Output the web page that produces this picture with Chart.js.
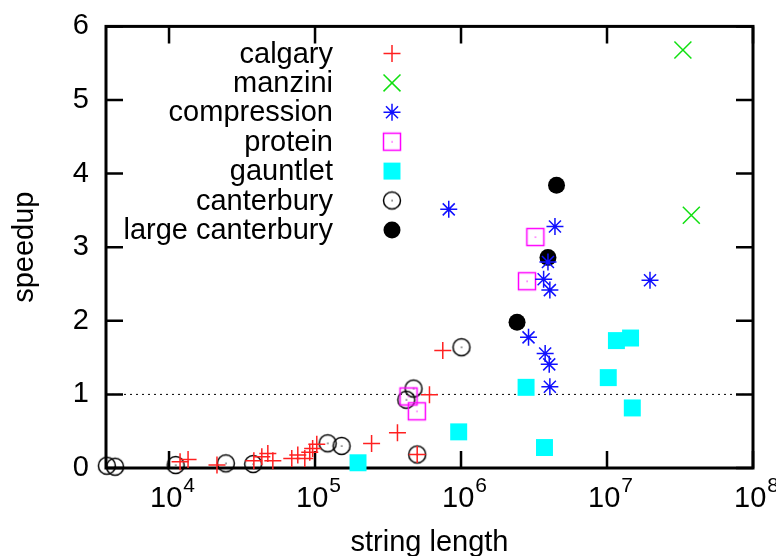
<!DOCTYPE html>
<html>
<head>
<meta charset="utf-8">
<script src="https://cdn.jsdelivr.net/npm/chart.js@4.4.1/dist/chart.umd.min.js"></script>
<style>
  html, body { margin: 0; padding: 0; background: #fff; }
  #wrap { width: 776px; height: 556px; }
</style>
</head>
<body>
<div id="wrap"><canvas id="speedup-canvas"></canvas></div>
<script>
// values (string length, speedup)
var seriesNames = ['calgary', 'manzini', 'compression', 'protein', 'gauntlet', 'canterbury', 'large canterbury'];

var calgaryLen = [11900, 13500, 21300, 38100, 43200, 47500, 51400, 69300, 76200, 85100, 92000, 96300, 102800, 244000, 367000, 501000, 608000, 750000];
var calgarySpeed = [0.085, 0.117, 0.04, 0.098, 0.152, 0.198, 0.098, 0.13, 0.175, 0.13, 0.215, 0.265, 0.323, 0.332, 0.48, 0.184, 0.995, 1.596];

var manziniLen = [3.31e7, 3.78e7];
var manziniSpeed = [5.68, 3.434];

var compressionLen = [824000, 2.90e6, 3.68e6, 3.77e6, 3.94e6, 4.02e6, 4.06e6, 4.06e6, 4.40e6, 1.97e7];
var compressionSpeed = [3.514, 1.775, 2.565, 1.556, 2.80, 1.408, 2.417, 1.103, 3.282, 2.551];

var proteinLen = [437000, 498000, 2.83e6, 3.23e6];
var proteinSpeed = [0.972, 0.771, 2.538, 3.138];

var gauntletLen = [197000, 964000, 2.79e6, 3.73e6, 1.02e7, 1.16e7, 1.45e7, 1.49e7];
var gauntletSpeed = [0.071, 0.491, 1.096, 0.278, 1.228, 1.731, 1.766, 0.816];

var canterburyLen = [3750, 4270, 11100, 24500, 37700, 122000, 152000, 422000, 473000, 501000, 1.007e6];
var canterburySpeed = [0.031, 0.017, 0.04, 0.063, 0.054, 0.336, 0.30, 0.928, 1.08, 0.184, 1.641];

var largeCantLen = [2.42e6, 3.94e6, 4.51e6];
var largeCantSpeed = [1.981, 2.861, 3.843];

var xDecades = [1e4, 1e5, 1e6, 1e7, 1e8];
var yTicks = [0, 1, 2, 3, 4, 5, 6];
var referenceSpeedup = 1;

var FONT = '"Liberation Sans", Arial, Helvetica, sans-serif';
Chart.defaults.font.family = FONT;
Chart.defaults.font.size = 29;
Chart.defaults.color = '#000';

function pts(xs, ys) {
    return xs.map(function (x, i) { return { x: x, y: ys[i] }; });
}

// open marker with a dot in the middle, like gnuplot draws them
function dottedMarker(shape, color) {
    var c = document.createElement('canvas');
    c.width = 22;
    c.height = 22;
    var g = c.getContext('2d');
    g.strokeStyle = color;
    g.fillStyle = color;
    g.lineWidth = 1.5;
    if (shape === 'circle') {
        g.beginPath();
        g.arc(11, 11, 8.5, 0, Math.PI * 2);
        g.stroke();
    } else {
        g.strokeRect(2.5, 2.5, 17, 17);
    }
    g.fillRect(10.5, 10.5, 1.2, 1.2);
    return c;
}

var frameAndTicks = {
    id: 'frameAndTicks',
    beforeDatasetsDraw: function (chart) {
        var ctx = chart.ctx;
        var a = chart.chartArea;
        var xs = chart.scales.x, ys = chart.scales.y;
        var len = 17;
        ctx.save();
        // dotted reference line
        var yr = ys.getPixelForValue(referenceSpeedup);
        ctx.strokeStyle = '#000';
        ctx.lineWidth = 1;
        ctx.setLineDash([2, 4]);
        ctx.beginPath();
        ctx.moveTo(a.left, yr);
        ctx.lineTo(a.right, yr);
        ctx.stroke();
        ctx.setLineDash([]);
        // ticks, drawn inwards on all four sides
        ctx.lineWidth = 2.5;
        ctx.beginPath();
        yTicks.forEach(function (v) {
            var p = ys.getPixelForValue(v);
            ctx.moveTo(a.left, p); ctx.lineTo(a.left + len, p);
            ctx.moveTo(a.right, p); ctx.lineTo(a.right - len, p);
        });
        xDecades.forEach(function (v) {
            var p = xs.getPixelForValue(v);
            ctx.moveTo(p, a.bottom); ctx.lineTo(p, a.bottom - len);
            ctx.moveTo(p, a.top); ctx.lineTo(p, a.top + len);
        });
        ctx.stroke();
        ctx.lineWidth = 3;
        ctx.strokeRect(a.left, a.top, a.right - a.left, a.bottom - a.top);

        // decade labels with a raised exponent
        ctx.fillStyle = '#000';
        ctx.textBaseline = 'alphabetic';
        ctx.textAlign = 'left';
        xDecades.forEach(function (v) {
            var p = xs.getPixelForValue(v);
            var exp = String(Math.round(Math.log10(v)));
            ctx.font = '29px ' + FONT;
            var wb = ctx.measureText('10').width;
            ctx.font = '21px ' + FONT;
            var we = ctx.measureText(exp).width;
            var x0 = p - (wb + we) / 2 + 3;
            ctx.font = '29px ' + FONT;
            ctx.fillText('10', x0, a.bottom + 39);
            ctx.font = '21px ' + FONT;
            ctx.fillText(exp, x0 + wb + 1, a.bottom + 24);
        });
        ctx.restore();
    }
};

var keyBox = {
    id: 'keyBox',
    afterDatasetsDraw: function (chart) {
        var ctx = chart.ctx;
        ctx.save();
        ctx.font = '29px ' + FONT;
        ctx.textAlign = 'right';
        ctx.textBaseline = 'middle';
        chart.data.datasets.forEach(function (ds, i) {
            var y = 53.5 + i * 29.4;
            ctx.fillStyle = '#000';
            ctx.fillText(ds.label, 333, y + 1);
            ctx.fillStyle = ds.backgroundColor;
            ctx.strokeStyle = ds.borderColor;
            ctx.lineWidth = ds.borderWidth;
            Chart.helpers.drawPoint(ctx, {
                pointStyle: ds.pointStyle,
                radius: ds.pointRadius,
                borderWidth: ds.borderWidth,
                rotation: 0
            }, 392, y);
        });
        ctx.restore();
    }
};

function series(i, xs, ys, style, radius, stroke, fill, width) {
    return {
        label: seriesNames[i],
        data: pts(xs, ys),
        pointStyle: style,
        pointRadius: radius,
        borderColor: stroke,
        backgroundColor: fill,
        borderWidth: width,
        clip: false
    };
}

var datasets = [
    series(0, calgaryLen, calgarySpeed, 'cross', 8.5, '#ff2020', 'rgba(0,0,0,0)', 1.5),
    series(1, manziniLen, manziniSpeed, 'crossRot', 12, '#10e010', 'rgba(0,0,0,0)', 1.5),
    series(2, compressionLen, compressionSpeed, 'star', 8.5, '#1010ff', 'rgba(0,0,0,0)', 1.5),
    series(3, proteinLen, proteinSpeed, dottedMarker('rect', '#ff00ff'), 8.5, '#ff00ff', 'rgba(0,0,0,0)', 1.5),
    series(4, gauntletLen, gauntletSpeed, 'rect', 12, '#00ffff', '#00ffff', 0),
    series(5, canterburyLen, canterburySpeed, dottedMarker('circle', '#000'), 8.5, '#000', 'rgba(0,0,0,0)', 1.5),
    series(6, largeCantLen, largeCantSpeed, 'circle', 8.5, '#000', '#000', 0)
];

new Chart(document.getElementById('speedup-canvas').getContext('2d'), {
    type: 'scatter',
    data: { datasets: datasets },
    options: {
        responsive: true,
        maintainAspectRatio: false,
        animation: false,
        layout: { autoPadding: false, padding: { top: 22, right: 23, bottom: 0, left: 0 } },
        plugins: {
            legend: { display: false },
            tooltip: { enabled: false }
        },
        scales: {
            x: {
                type: 'logarithmic',
                min: 3700,
                max: 1e8,
                afterBuildTicks: function (s) {
                    s.ticks = xDecades.map(function (v) { return { value: v }; });
                },
                afterFit: function (s) { s.height = 88; },
                ticks: { display: false },
                grid: { display: false },
                border: { display: false },
                title: {
                    display: true,
                    text: 'string length',
                    font: { lineHeight: 1 },
                    padding: { top: 0, bottom: -1 }
                }
            },
            y: {
                min: 0,
                max: 6,
                afterBuildTicks: function (s) {
                    s.ticks = yTicks.map(function (v) { return { value: v }; });
                },
                afterFit: function (s) { s.width = 106; },
                ticks: { padding: 9 },
                grid: { display: false },
                border: { display: false },
                title: { display: true, text: 'speedup', padding: { top: 8, bottom: 0 } }
            }
        }
    },
    plugins: [frameAndTicks, keyBox]
});
</script>
</body>
</html>
